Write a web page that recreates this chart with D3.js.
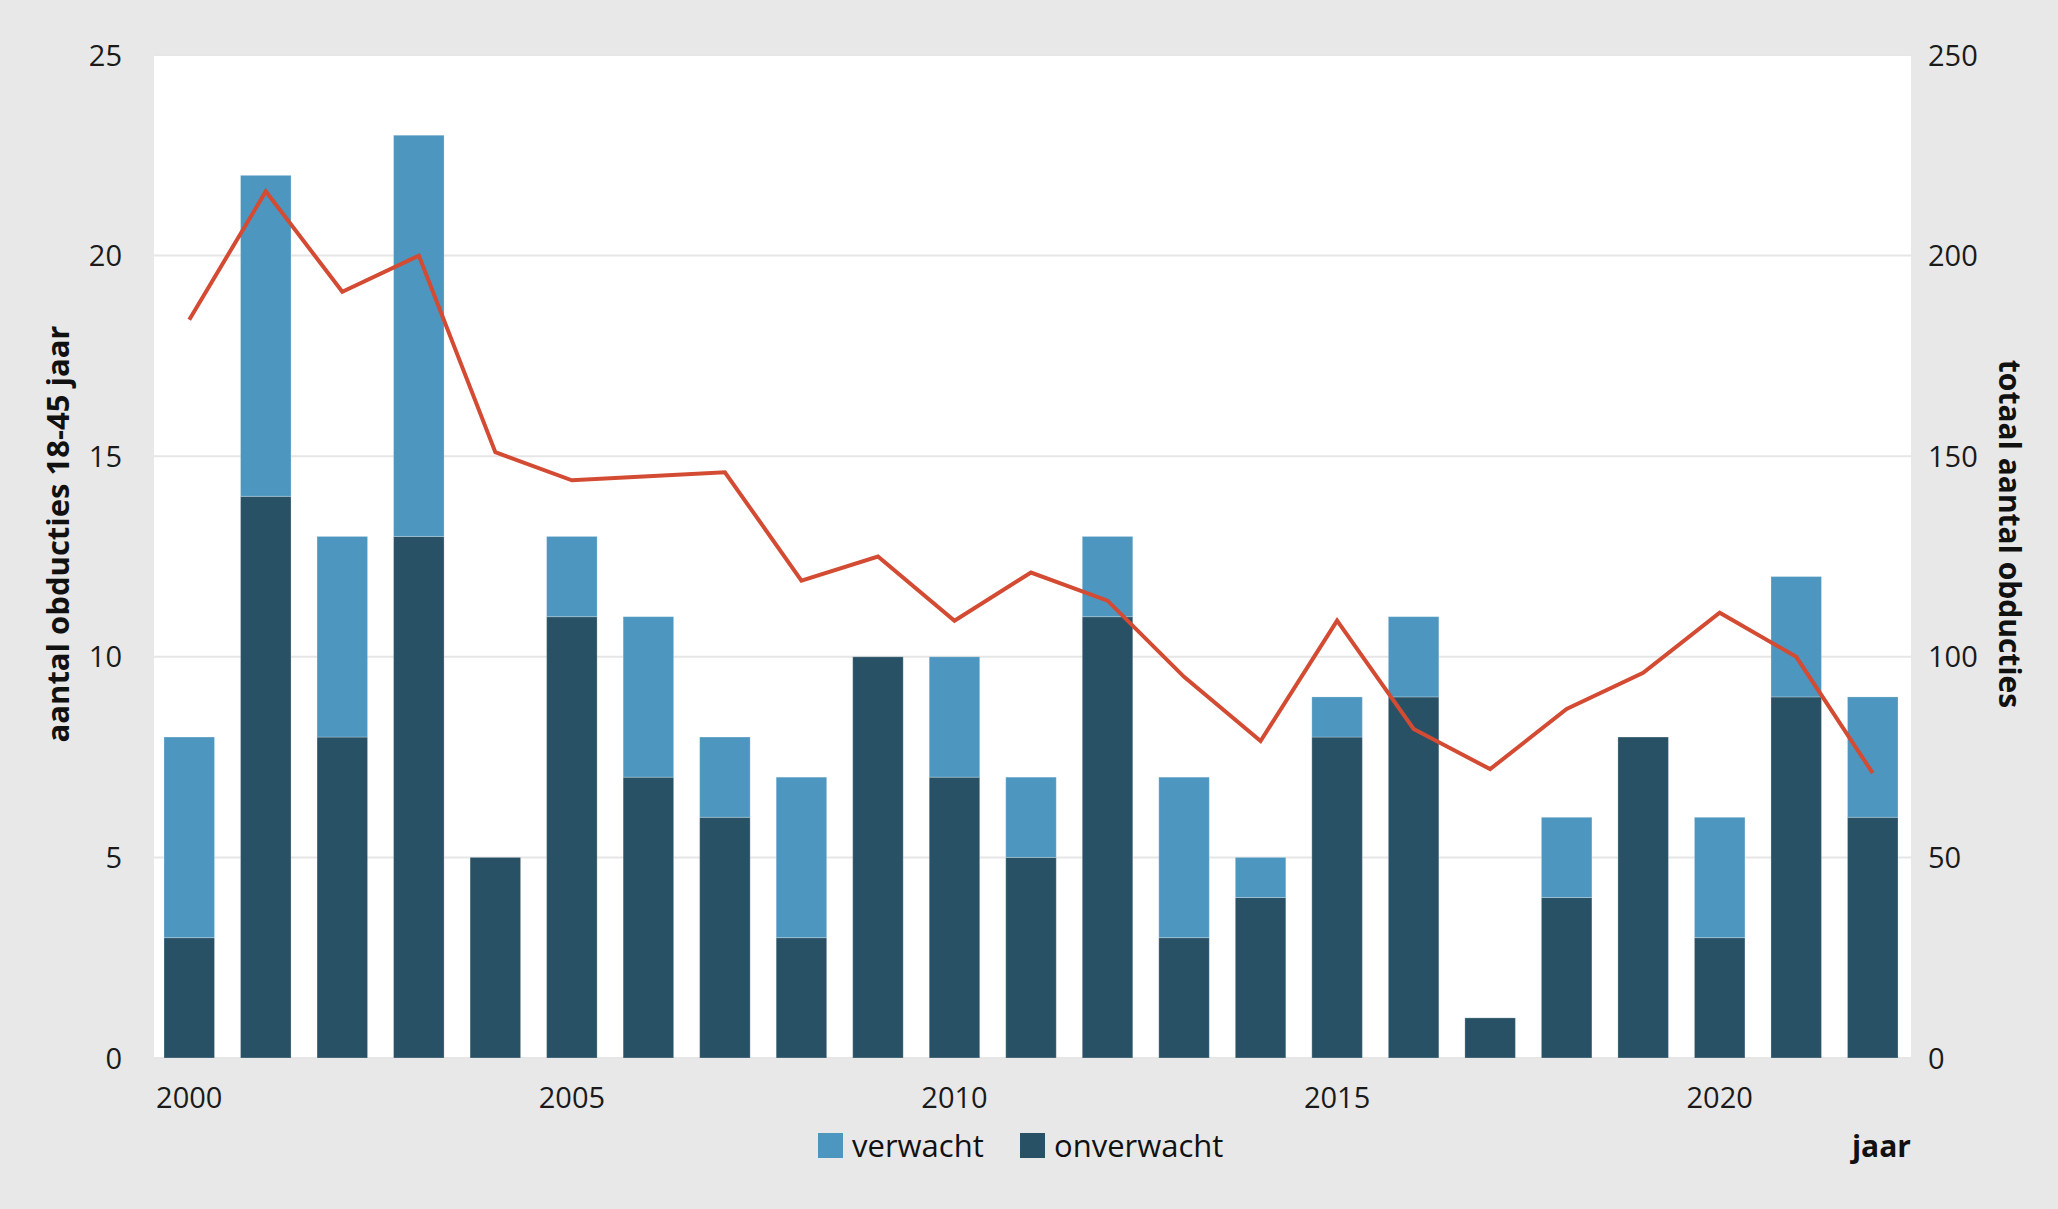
<!DOCTYPE html>
<html>
<head>
<meta charset="utf-8">
<script src="https://cdn.jsdelivr.net/npm/d3@7"></script>
<style>
  html, body { margin: 0; padding: 0; background: #e8e8e8; }
  svg { display: block; font-family: "Open Sans", "Noto Sans", sans-serif; }
</style>
</head>
<body>
<div id="chart"></div>
<script>
const years = ["2000", "2001", "2002", "2003", "2004", "2005", "2006", "2007", "2008", "2009", "2010", "2011",
               "2012", "2013", "2014", "2015", "2016", "2017", "2018", "2019", "2020", "2021", "2022"];
const onverwacht = [3, 14, 8, 13, 5, 11, 7, 6, 3, 10, 7, 5, 11, 3, 4, 8, 9, 1, 4, 8, 3, 9, 6];
const verwacht = [5, 8, 5, 10, 0, 2, 4, 2, 4, 0, 3, 2, 2, 4, 1, 1, 2, 0, 2, 0, 3, 3, 3];
const totaal = [184, 216, 191, 200, 151, 144, 145, 146, 119, 125, 109, 121, 114, 95, 79, 109, 82, 72, 87, 96, 111, 100, 71];
const yearLabels = ["2000", "2005", "2010", "2015", "2020"];
const leftTicks = [0, 5, 10, 15, 20, 25];
const rightTicks = [0, 50, 100, 150, 200, 250];

const W = 2058, H = 1209;
const plot = {left: 154, top: 55, right: 1911, bottom: 1058};
const colors = {verwacht: "#4c96bf", onverwacht: "#285165", line: "#d44b33", grid: "#e6e6e6"};

const svg = d3.select("#chart").append("svg")
    .attr("width", W)
    .attr("height", H)
    .attr("viewBox", `0 0 ${W} ${H}`);

svg.append("rect").attr("width", W).attr("height", H).attr("fill", "#e8e8e8");
svg.append("rect")
    .attr("x", plot.left).attr("y", plot.top)
    .attr("width", plot.right - plot.left).attr("height", plot.bottom - plot.top)
    .attr("fill", "#fff");

let x = d3.scaleBand().domain(years).range([151, plot.right]).paddingInner(0.34).paddingOuter(0.17),
    y = d3.scaleLinear().domain([0, 25]).range([plot.bottom, plot.top]),
    y2 = d3.scaleLinear().domain([0, 250]).range([plot.bottom, plot.top]);

// gridlines
svg.append("g").selectAll("line")
    .data(leftTicks)
    .enter().append("line")
    .attr("x1", plot.left).attr("x2", plot.right)
    .attr("y1", d => y(d)).attr("y2", d => y(d))
    .attr("stroke", colors.grid).attr("stroke-width", 2);

// stacked bars
let rows = years.map((yr, i) => ({year: yr, onverwacht: onverwacht[i], verwacht: verwacht[i]}));
let series = d3.stack().keys(["onverwacht", "verwacht"])(rows);

svg.append("g").selectAll("g")
    .data(series)
    .enter().append("g")
    .attr("fill", d => colors[d.key])
    .selectAll("rect")
    .data(d => d.filter(p => p[1] > p[0]))
    .enter().append("rect")
    .attr("x", d => x(d.data.year))
    .attr("y", d => y(d[1]))
    .attr("width", x.bandwidth())
    .attr("height", d => y(d[0]) - y(d[1]))
    .attr("stroke", "#ffffff").attr("stroke-opacity", 0.25).attr("stroke-width", 1);

// total line
let line = d3.line()
    .x((d, i) => x(years[i]) + x.bandwidth() / 2)
    .y(d => y2(d));

svg.append("path")
    .datum(totaal)
    .attr("d", line)
    .attr("fill", "none")
    .attr("stroke", colors.line)
    .attr("stroke-width", 4)
    .attr("stroke-linejoin", "miter");

// axes
let leftAxis = svg.append("g")
    .attr("transform", `translate(${plot.left - 32},0)`)
    .call(d3.axisLeft(y).tickValues(leftTicks).tickSize(0).tickPadding(0));
let rightAxis = svg.append("g")
    .attr("transform", `translate(${plot.right + 17},0)`)
    .call(d3.axisRight(y2).tickValues(rightTicks).tickSize(0).tickPadding(0));
let bottomAxis = svg.append("g")
    .attr("transform", `translate(0,${plot.bottom + 40})`)
    .call(d3.axisBottom(x).tickValues(yearLabels).tickSize(0).tickPadding(0));

[leftAxis, rightAxis, bottomAxis].forEach(a => {
    a.select(".domain").remove();
    a.selectAll("text")
        .attr("font-family", "Open Sans, Noto Sans, sans-serif")
        .attr("font-size", 29)
        .attr("fill", "#1a1a1a")
        .attr("dy", "0.35em");
});

// axis titles
svg.append("text")
    .attr("transform", "translate(58,534) rotate(-90)")
    .attr("text-anchor", "middle")
    .attr("dy", "0.35em")
    .attr("font-size", 31).attr("font-weight", "bold").attr("fill", "#111")
    .text("aantal obducties 18-45 jaar");

svg.append("text")
    .attr("transform", "translate(2009,534) rotate(90)")
    .attr("text-anchor", "middle")
    .attr("dy", "0.35em")
    .attr("font-size", 30).attr("font-weight", "bold").attr("fill", "#111")
    .text("totaal aantal obducties");

svg.append("text")
    .attr("x", plot.right).attr("y", 1157)
    .attr("text-anchor", "end")
    .attr("font-size", 30).attr("font-weight", "bold").attr("fill", "#111")
    .text("jaar");

// legend
const legendItems = [
    {key: "verwacht", x: 818},
    {key: "onverwacht", x: 1020}
];
let legend = svg.append("g").selectAll("g")
    .data(legendItems)
    .enter().append("g")
    .attr("transform", d => `translate(${d.x},1133)`);
legend.append("rect")
    .attr("width", 25).attr("height", 25)
    .attr("fill", d => colors[d.key]);
legend.append("text")
    .attr("x", 34).attr("y", 24)
    .attr("font-size", 31).attr("fill", "#111")
    .text(d => d.key);
</script>
</body>
</html>
